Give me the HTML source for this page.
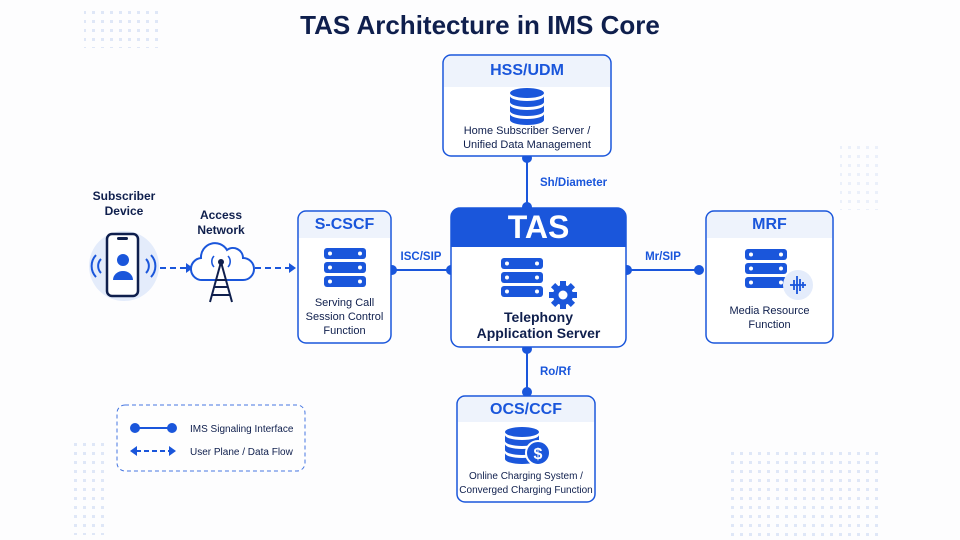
<!DOCTYPE html>
<html><head><meta charset="utf-8"><style>
body{margin:0;width:960px;height:540px;background:#fdfdfe;font-family:"Liberation Sans",sans-serif;position:relative;overflow:hidden}
.t{position:absolute;text-align:center;white-space:nowrap}
</style></head><body>
<svg width="960" height="540" style="position:absolute;left:0;top:0" font-family="Liberation Sans, sans-serif">
<defs>
<pattern id="dots" width="9" height="9" patternUnits="userSpaceOnUse"><rect x="2" y="2" width="3" height="3" fill="#dfe7f7"/></pattern>
<g id="srv">
<rect x="0" y="0" width="42" height="11" rx="3" fill="#1a56db"/>
<rect x="0" y="14" width="42" height="11" rx="3" fill="#1a56db"/>
<rect x="0" y="28" width="42" height="11" rx="3" fill="#1a56db"/>
<circle cx="6" cy="5.5" r="2" fill="#fff"/><circle cx="36" cy="5.5" r="2" fill="#fff"/>
<circle cx="6" cy="19.5" r="2" fill="#fff"/><circle cx="36" cy="19.5" r="2" fill="#fff"/>
<circle cx="6" cy="33.5" r="2" fill="#fff"/><circle cx="36" cy="33.5" r="2" fill="#fff"/>
</g>
<g id="db">
<ellipse cx="17" cy="5" rx="17" ry="5" fill="#1a56db"/>
<path d="M0 8 v6 a17 5 0 0 0 34 0 v-6 a17 5 0 0 1 -34 0z" fill="#1a56db"/>
<path d="M0 17 v6 a17 5 0 0 0 34 0 v-6 a17 5 0 0 1 -34 0z" fill="#1a56db"/>
<path d="M0 26 v6 a17 5 0 0 0 34 0 v-6 a17 5 0 0 1 -34 0z" fill="#1a56db"/>
</g>
</defs>
<rect x="84" y="8" width="80" height="40" fill="url(#dots)"/>
<rect x="728" y="448" width="155" height="90" fill="url(#dots)"/>
<rect x="72" y="440" width="36" height="95" fill="url(#dots)"/>
<rect x="840" y="140" width="40" height="70" fill="url(#dots)" opacity=".6"/>

<!-- connectors -->
<g stroke="#1a56db" stroke-width="2" fill="#1a56db">
<line x1="527" y1="156" x2="527" y2="208"/><circle cx="527" cy="158" r="4"/><circle cx="527" cy="207" r="4"/>
<line x1="527" y1="347" x2="527" y2="394"/><circle cx="527" cy="349" r="4"/><circle cx="527" cy="392" r="4"/>
<line x1="391" y1="270" x2="451" y2="270"/><circle cx="392" cy="270" r="4"/><circle cx="451" cy="270" r="4"/>
<line x1="626" y1="270" x2="700" y2="270"/><circle cx="627" cy="270" r="4"/><circle cx="699" cy="270" r="4"/>
<line x1="160" y1="268" x2="186" y2="268" stroke-dasharray="6 4"/><path d="M186 263 l7 5 -7 5z" stroke="none"/>
<line x1="255" y1="268" x2="289" y2="268" stroke-dasharray="6 4"/><path d="M289 263 l7 5 -7 5z" stroke="none"/>
</g>
<g fill="#1a56db" font-size="11.5" font-weight="bold">
<text x="540" y="186">Sh/Diameter</text>
<text x="540" y="375">Ro/Rf</text>
<text x="421" y="260" text-anchor="middle">ISC/SIP</text>
<text x="663" y="260" text-anchor="middle">Mr/SIP</text>
</g>

<!-- HSS -->
<rect x="443" y="55" width="168" height="101" rx="8" fill="#fff" stroke="#1a56db" stroke-width="1.5"/>
<path d="M444 87 V63 a7 7 0 0 1 7-7 H603 a7 7 0 0 1 7 7 V87z" fill="#eef3fc"/>
<use href="#db" x="510" y="88"/>
<!-- TAS -->
<rect x="451" y="208" width="175" height="139" rx="9" fill="#fff" stroke="#1a56db" stroke-width="1.5"/>
<path d="M451 247 V217 a9 9 0 0 1 9-9 H617 a9 9 0 0 1 9 9 V247z" fill="#1a56db"/>
<use href="#srv" x="502" y="258" transform="translate(-1 0)"/>
<g transform="translate(563 295)" fill="#1a56db">
<circle r="10"/>
<g><rect x="-3" y="-14" width="6" height="28"/><rect x="-14" y="-3" width="28" height="6"/>
<rect x="-3" y="-14" width="6" height="28" transform="rotate(45)"/><rect x="-3" y="-14" width="6" height="28" transform="rotate(-45)"/></g>
<circle r="4.5" fill="#fff"/>
</g>
<!-- S-CSCF -->
<rect x="298" y="211" width="93" height="132" rx="8" fill="#fff" stroke="#1a56db" stroke-width="1.5"/>
<path d="M299 238 V219 a7 7 0 0 1 7-7 H383 a7 7 0 0 1 7 7 V238z" fill="#eef3fc"/>
<use href="#srv" x="324" y="248"/>
<!-- MRF -->
<rect x="706" y="211" width="127" height="132" rx="8" fill="#fff" stroke="#1a56db" stroke-width="1.5"/>
<path d="M707 238 V219 a7 7 0 0 1 7-7 H825 a7 7 0 0 1 7 7 V238z" fill="#eef3fc"/>
<use href="#srv" x="745" y="249"/>
<circle cx="798" cy="285" r="15" fill="#e4ecfb"/>
<g stroke="#1a56db" stroke-width="1.8"><line x1="790" y1="285" x2="806" y2="285"/><line x1="794" y1="280" x2="794" y2="290"/><line x1="797" y1="276" x2="797" y2="294"/><line x1="800" y1="279" x2="800" y2="291"/><line x1="803" y1="282" x2="803" y2="288"/></g>
<!-- OCS -->
<rect x="457" y="396" width="138" height="106" rx="8" fill="#fff" stroke="#1a56db" stroke-width="1.5"/>
<path d="M458 422 V404 a7 7 0 0 1 7-7 H587 a7 7 0 0 1 7 7 V422z" fill="#eef3fc"/>
<use href="#db" x="505" y="427"/>
<circle cx="538" cy="453" r="12" fill="#1a56db" stroke="#fff" stroke-width="2"/>
<text x="538" y="459" fill="#fff" font-size="16" font-weight="bold" text-anchor="middle">$</text>

<!-- phone -->
<circle cx="124" cy="266" r="35" fill="#e4ecfb"/>
<rect x="107" y="234" width="31" height="62" rx="5" fill="#fff" stroke="#0f1f4d" stroke-width="2.5"/>
<rect x="117" y="237" width="11" height="3" rx="1.5" fill="#0f1f4d"/>
<circle cx="123" cy="260" r="6" fill="#1a56db"/>
<path d="M113 280 a10 9 0 0 1 20 0z" fill="#1a56db"/>
<g stroke="#1a56db" stroke-width="2" fill="none">
<path d="M101 259 a10 10 0 0 0 0 14"/><path d="M96 255 a16 16 0 0 0 0 22"/>
<path d="M146 259 a10 10 0 0 1 0 14"/><path d="M151 255 a16 16 0 0 1 0 22"/>
</g>
<!-- cloud -->
<path d="M203 280 a11 11 0 0 1 -2 -22 a14 14 0 0 1 26 -8 a10 10 0 0 1 16 8 a11 11 0 0 1 0 22z" fill="#fff" stroke="#1a56db" stroke-width="2"/>
<g stroke="#0f1f4d" stroke-width="2" fill="none">
<path d="M221 262 L210 302 M221 262 L232 302 M214 287 L228 287 M212 295 L230 295 M216 280 L226 280"/>
</g>
<circle cx="221" cy="262" r="3" fill="#0f1f4d"/>
<g stroke="#1a56db" stroke-width="1.6" fill="none">
<path d="M214 256 a8 8 0 0 0 0 11"/><path d="M228 256 a8 8 0 0 1 0 11"/>
</g>

<!-- legend -->
<rect x="117" y="405" width="188" height="66" rx="8" fill="#fff" stroke="#1a56db" stroke-width="1" stroke-dasharray="4 3" opacity=".8"/>
<g stroke="#1a56db" stroke-width="2" fill="#1a56db">
<line x1="134" y1="428" x2="172" y2="428"/><circle cx="135" cy="428" r="4"/><circle cx="172" cy="428" r="4"/>
<line x1="136" y1="451" x2="170" y2="451" stroke-dasharray="5 3"/>
<path d="M137 446 l-7 5 7 5z M169 446 l7 5 -7 5z" stroke="none"/>
</g>
<g fill="#0f1f4d" font-size="10">
<text x="190" y="432">IMS Signaling Interface</text>
<text x="190" y="455">User Plane / Data Flow</text>
</g>
</svg>

<div class="t" style="left:0;width:960px;top:10px;font-size:26px;font-weight:bold;color:#0f1f4d">TAS Architecture in IMS Core</div>

<div class="t" style="left:443px;width:168px;top:62px;font-size:16px;font-weight:bold;color:#1a56db">HSS/UDM</div>
<div class="t" style="left:443px;width:168px;top:124px;font-size:11px;line-height:14px;color:#0f1f4d">Home Subscriber Server /<br>Unified Data Management</div>

<div class="t" style="left:451px;width:175px;top:209px;font-size:32px;font-weight:bold;color:#fff">TAS</div>
<div class="t" style="left:451px;width:175px;top:309px;font-size:14px;line-height:16px;font-weight:bold;color:#0f1f4d">Telephony<br>Application Server</div>

<div class="t" style="left:298px;width:93px;top:216px;font-size:16px;font-weight:bold;color:#1a56db">S-CSCF</div>
<div class="t" style="left:298px;width:93px;top:296px;font-size:11px;line-height:14px;color:#0f1f4d">Serving Call<br>Session Control<br>Function</div>

<div class="t" style="left:706px;width:127px;top:216px;font-size:16px;font-weight:bold;color:#1a56db">MRF</div>
<div class="t" style="left:706px;width:127px;top:304px;font-size:11px;line-height:14px;color:#0f1f4d">Media Resource<br>Function</div>

<div class="t" style="left:457px;width:138px;top:401px;font-size:16px;font-weight:bold;color:#1a56db">OCS/CCF</div>
<div class="t" style="left:457px;width:138px;top:470px;font-size:10px;line-height:14px;color:#0f1f4d">Online Charging System /<br>Converged Charging Function</div>

<div class="t" style="left:74px;width:100px;top:189px;font-size:12px;line-height:15px;font-weight:bold;color:#0f1f4d">Subscriber<br>Device</div>
<div class="t" style="left:171px;width:100px;top:208px;font-size:12px;line-height:15px;font-weight:bold;color:#0f1f4d">Access<br>Network</div>
</body></html>
